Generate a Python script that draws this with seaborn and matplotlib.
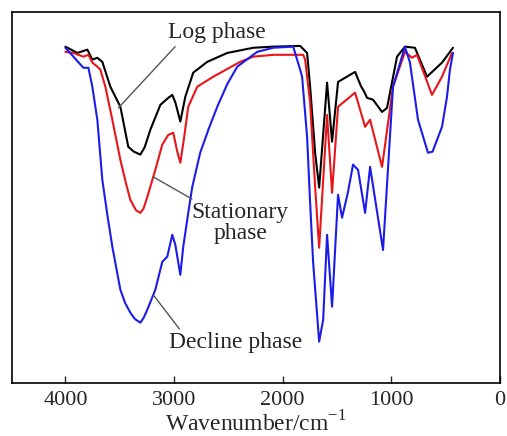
# FTIR spectra of the three growth phases
import matplotlib
matplotlib.use("Agg")
import matplotlib.pyplot as plt
import seaborn as sns

# Log phase (black)
log_wn = [4000, 3889, 3798, 3752, 3706, 3660, 3586, 3494, 3421, 3370, 3310, 3270,
          3218, 3126, 3053, 3016, 2987, 2942, 2896, 2823, 2694, 2510, 2271, 2087,
          1839, 1775, 1747, 1701, 1664, 1591, 1545, 1490, 1333, 1280, 1250, 1223,
          1168, 1085, 1039, 947, 874, 782, 671, 533, 432]
log_t = [90.6, 88.9, 89.8, 87.1, 87.6, 86.5, 79.8, 74.4, 63.6, 62.3, 61.5, 63.5,
         68.2, 74.9, 76.8, 77.6, 75.5, 70.4, 77.1, 83.6, 86.5, 88.9, 90.3, 90.6,
         90.8, 88.9, 79.8, 62.0, 52.6, 80.9, 65.0, 81.1, 83.8, 80.0, 78.5, 76.8,
         76.3, 73.0, 74.1, 87.9, 90.6, 90.3, 82.5, 86.3, 90.3]

# Stationary phase (red)
sta_wn = [4000, 3926, 3834, 3788, 3752, 3706, 3678, 3632, 3568, 3494, 3440, 3402,
          3350, 3310, 3280, 3246, 3172, 3108, 3053, 3007, 2970, 2942, 2906, 2869,
          2786, 2639, 2391, 2271, 2087, 1811, 1793, 1747, 1701, 1664, 1591, 1545,
          1490, 1333, 1241, 1195, 1085, 984, 874, 809, 763, 625, 533, 441]
sta_t = [89.2, 88.9, 87.9, 88.4, 86.3, 85.2, 84.4, 79.8, 70.9, 60.1, 53.5, 49.3,
         46.5, 45.8, 47.0, 50.1, 57.4, 64.2, 66.8, 67.4, 62.3, 59.3, 66.3, 74.4,
         79.8, 82.5, 86.5, 87.9, 88.4, 88.4, 87.1, 75.5, 52.8, 36.4, 72.2, 51.2,
         74.4, 78.2, 69.0, 70.9, 58.2, 79.8, 89.2, 87.6, 88.4, 77.6, 82.5, 88.9]

# Decline phase (blue)
dec_wn = [4000, 3926, 3834, 3788, 3752, 3706, 3660, 3614, 3568, 3494, 3450, 3402,
          3360, 3310, 3280, 3246, 3172, 3108, 3062, 3016, 2988, 2942, 2915, 2869,
          2832, 2759, 2680, 2602, 2510, 2418, 2234, 2087, 1903, 1839, 1821, 1775,
          1747, 1719, 1664, 1627, 1591, 1545, 1490, 1453, 1398, 1352, 1306, 1241,
          1195, 1076, 984, 874, 828, 754, 662, 620, 533, 487, 460, 432]
dec_t = [90.3, 87.9, 84.9, 84.9, 79.8, 70.9, 54.7, 45.3, 36.7, 25.1, 21.5, 18.9,
         17.2, 16.2, 17.5, 19.7, 25.1, 32.6, 34.0, 39.9, 37.2, 29.1, 36.7, 45.8,
         52.8, 62.0, 68.5, 74.4, 80.5, 85.2, 89.2, 90.3, 90.6, 84.4, 82.5, 66.3,
         48.5, 32.3, 11.1, 17.0, 39.9, 20.5, 50.7, 44.5, 51.5, 58.8, 57.4, 45.8,
         58.2, 35.8, 79.8, 90.6, 86.3, 70.9, 62.0, 62.3, 69.0, 77.1, 84.4, 88.9]

x_ticks = [4000, 3000, 2000, 1000, 0]

sns.set_style("white")
plt.rcParams["font.family"] = ["Liberation Serif", "DejaVu Serif"]
plt.rcParams["mathtext.fontset"] = "custom"
plt.rcParams["mathtext.rm"] = "Liberation Serif"

fig = plt.figure(figsize=(5.07, 4.36), dpi=100)
ax = fig.add_axes([0.024, 0.122, 0.962, 0.851])

sns.lineplot(x=log_wn, y=log_t, color="black", lw=1.5, sort=False, ax=ax)
sns.lineplot(x=sta_wn, y=sta_t, color="#e8151b", lw=1.5, sort=False, ax=ax)
sns.lineplot(x=dec_wn, y=dec_t, color="#1c1ce8", lw=1.5, sort=False, ax=ax)

ax.set_xlim(4490, 0)
ax.set_ylim(0, 100)
ax.set_xticks(x_ticks)
ax.set_xticklabels([str(t) for t in x_ticks], fontsize=16)
ax.set_yticks([])
ax.tick_params(axis="x", direction="in", length=5, width=1, pad=6,
               bottom=True, top=False)
for s in ax.spines.values():
    s.set_color("black")
    s.set_linewidth(1.2)
ax.set_xlabel("Wavenumber/cm$^{-1}$", fontsize=17, labelpad=1)

# labels with leader lines
lead = dict(arrowstyle="-", color="#555555", lw=1.0, shrinkA=0, shrinkB=0)
ax.annotate("Log phase", xy=(3512, 74.1), xytext=(2602, 94.3), fontsize=17,
            ha="center", va="center", arrowprops=dict(lead, relpos=(0.1, 0.0)))
ax.annotate("Stationary\nphase", xy=(3191, 55.5), xytext=(2391, 43.0), fontsize=17,
            ha="center", va="center", linespacing=1.0,
            arrowprops=dict(lead, relpos=(0.1, 0.95)))
ax.annotate("Decline phase", xy=(3191, 23.7), xytext=(2437, 10.8), fontsize=17,
            ha="center", va="center", arrowprops=dict(lead, relpos=(0.1, 1.0)))

fig.savefig("out.png", dpi=100)
